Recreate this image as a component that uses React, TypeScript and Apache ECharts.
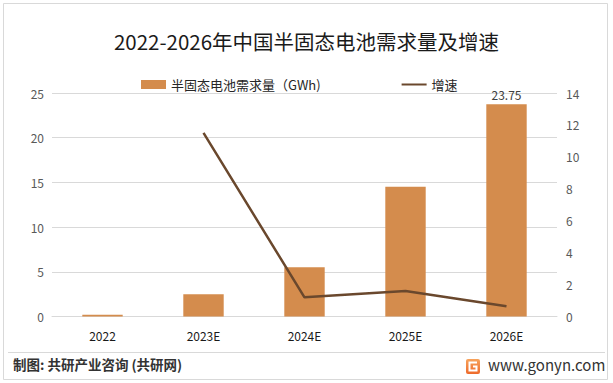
import React, { useEffect, useRef } from "react";
import * as echarts from "echarts";

const categories = ["2022", "2023E", "2024E", "2025E", "2026E"];
const demand = [0.2, 2.5, 5.5, 14.5, 23.75];
const growth: (number | null)[] = [null, 11.5, 1.2, 1.6, 0.64];
const leftTicks = { min: 0, max: 25, interval: 5 };
const rightTicks = { min: 0, max: 14, interval: 2 };
const barName = "半固态电池需求量（GWh)";
const lineName = "增速";
const titleText = "2022-2026年中国半固态电池需求量及增速";
const sourceText = "制图: 共研产业咨询 (共研网)";
const siteText = "www.gonyn.com";

const FONT = "'Noto Sans CJK SC', 'Noto Sans', sans-serif";

export default function App() {
  const ref = useRef<HTMLDivElement>(null);
  useEffect(() => {
    document.body.style.margin = "0";
    if (!ref.current) return;
    const chart = echarts.init(ref.current, null, { renderer: "svg" });
    chart.setOption({
      animation: false,
      backgroundColor: "#ffffff",
      textStyle: { fontFamily: FONT },
      title: {
        text: titleText,
        left: "center",
        top: 26,
        textStyle: { fontFamily: FONT, fontSize: 20.5, fontWeight: "normal", color: "#1a1a1a" },
      },
      legend: {
        left: 136,
        top: 73,
        itemWidth: 25,
        itemHeight: 9,
        itemGap: 80,
        textStyle: { fontFamily: FONT, fontSize: 13, color: "#262626" },
        data: [
          { name: barName, icon: "rect" },
          { name: lineName, itemStyle: { opacity: 0 } },
        ],
      },
      grid: { left: 52, right: 56, top: 93, bottom: 66.5, containLabel: false },
      xAxis: {
        type: "category",
        data: categories,
        axisLine: { show: true, lineStyle: { color: "#d9d9d9" } },
        axisTick: { show: false },
        axisLabel: { color: "#1a1a1a", fontSize: 12, margin: 13, fontFamily: FONT },
      },
      yAxis: [
        {
          type: "value",
          min: leftTicks.min,
          max: leftTicks.max,
          interval: leftTicks.interval,
          axisLine: { show: false },
          axisTick: { show: false },
          axisLabel: { color: "#595959", fontSize: 12, margin: 8, fontFamily: FONT },
          splitLine: { lineStyle: { color: "#d9d9d9", width: 1 } },
        },
        {
          type: "value",
          min: rightTicks.min,
          max: rightTicks.max,
          interval: rightTicks.interval,
          axisLine: { show: false },
          axisTick: { show: false },
          axisLabel: { color: "#595959", fontSize: 12, margin: 9, fontFamily: FONT },
          splitLine: { show: false },
        },
      ],
      series: [
        {
          name: barName,
          type: "bar",
          data: demand,
          barWidth: "40%",
          itemStyle: { color: "#D48C4D" },
          label: {
            show: true,
            position: "top",
            distance: 4,
            color: "#404040",
            fontSize: 12,
            fontFamily: FONT,
            formatter: (p: any) => (p.dataIndex === demand.length - 1 ? String(p.value) : ""),
          },
        },
        {
          name: lineName,
          type: "line",
          yAxisIndex: 1,
          data: growth,
          symbol: "none",
          connectNulls: false,
          lineStyle: { color: "#6A482D", width: 2.5 },
          itemStyle: { color: "#6A482D" },
        },
      ],
      graphic: [
        {
          type: "rect",
          shape: { x: 3.5, y: 3.5, width: 604, height: 376 },
          style: { fill: "none", stroke: "#d9d9d9", lineWidth: 1 },
          silent: true,
        },
        {
          type: "line",
          shape: { x1: 8, y1: 352.5, x2: 605, y2: 352.5 },
          style: { stroke: "#d9d9d9", lineWidth: 1 },
        },
        {
          type: "text",
          left: 13,
          top: 357,
          style: { text: sourceText, font: `bold 13.5px ${FONT}`, fill: "#333333" },
        },
        {
          type: "rect",
          shape: { x: 466, y: 359, width: 14, height: 15, r: 2 },
          style: {
            fill: new echarts.graphic.LinearGradient(0, 0, 0, 1, [
              { offset: 0, color: "#F7A35C" },
              { offset: 1, color: "#EE6A2B" },
            ]),
          },
        },
        {
          type: "polyline",
          shape: { points: [[477, 362.5], [469.5, 362.5], [469.5, 370.5], [476.5, 370.5], [476.5, 366.5], [473, 366.5]] },
          style: { stroke: "#ffffff", lineWidth: 2, fill: "none" },
        },
        {
          type: "text",
          left: 488,
          top: 357,
          style: { text: siteText, font: `15px ${FONT}`, fill: "#333333" },
        },
      ],
    });
    return () => chart.dispose();
  }, []);
  return <div ref={ref} style={{ width: 613, height: 383 }} />;
}
